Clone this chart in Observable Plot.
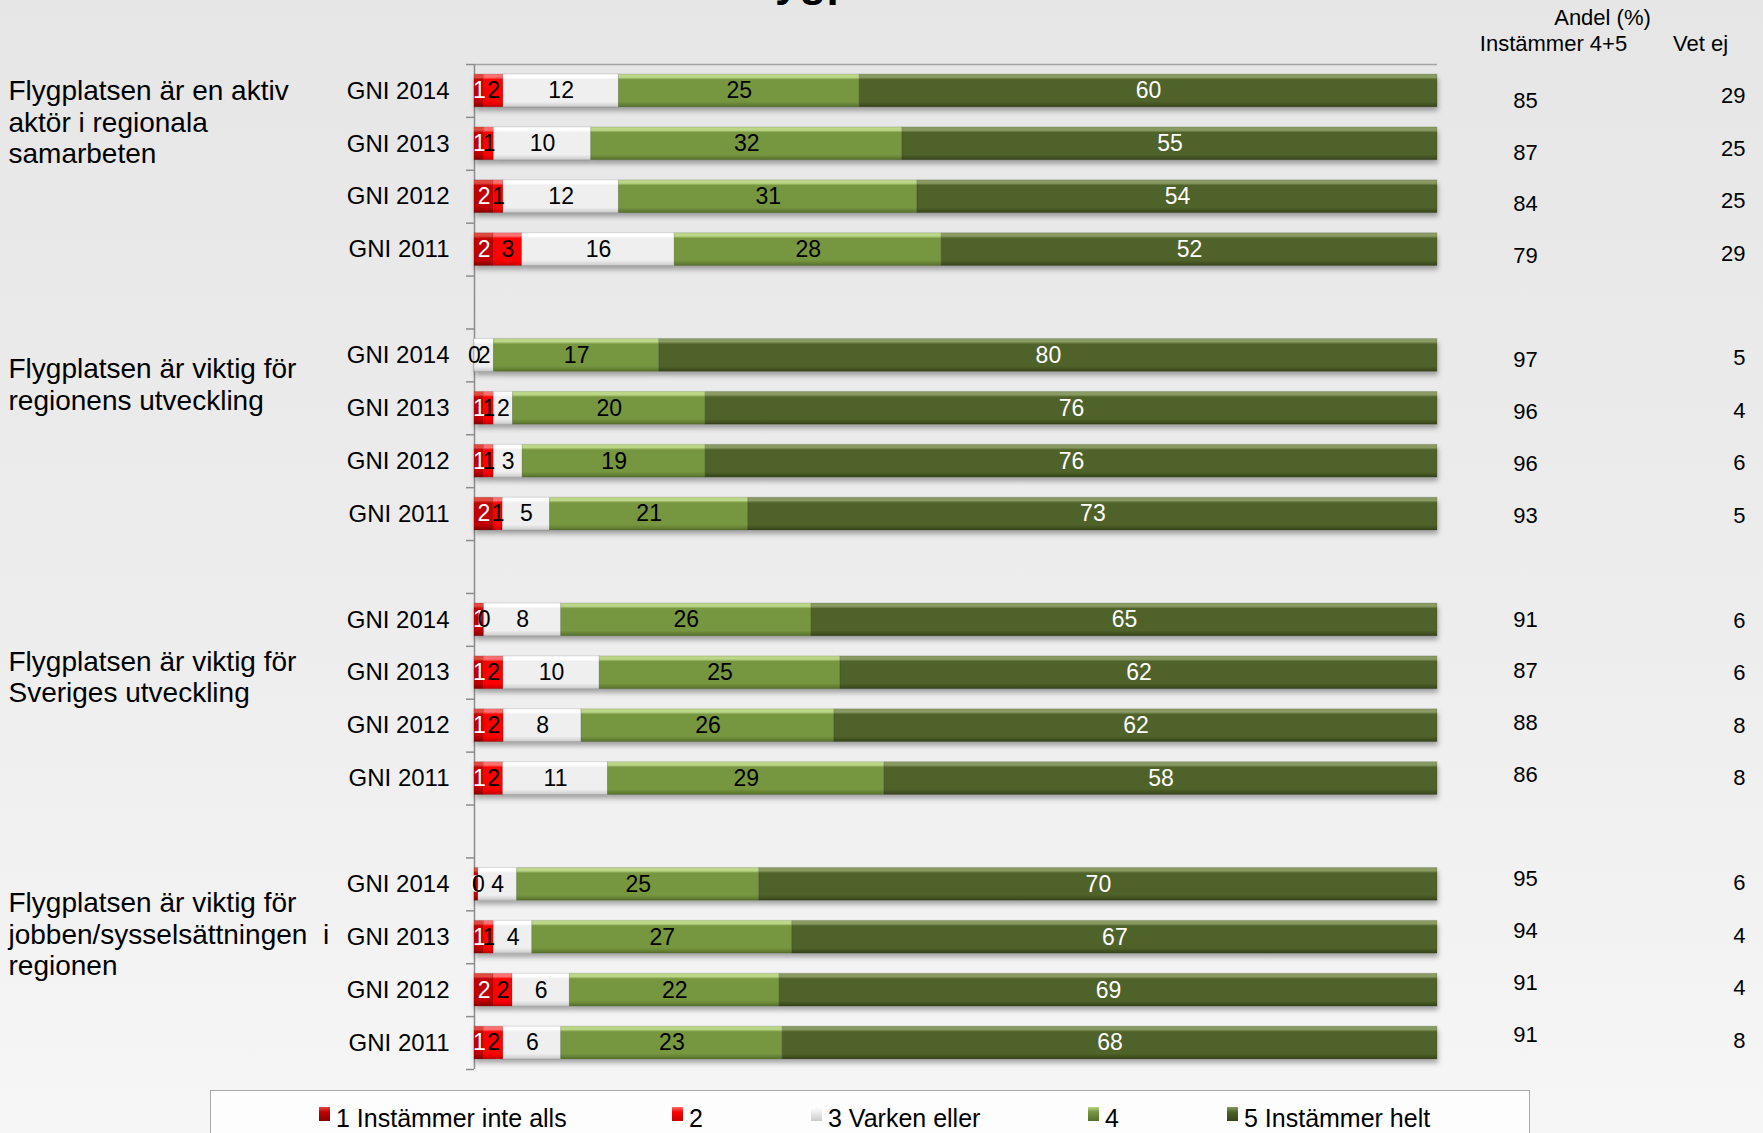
<!DOCTYPE html>
<html><head><meta charset="utf-8">
<script src="https://cdn.jsdelivr.net/npm/d3@7"></script>
<script src="https://cdn.jsdelivr.net/npm/@observablehq/plot@0.6"></script>
<style>
html,body{margin:0;padding:0;}
body{width:1763px;height:1133px;overflow:hidden;background:linear-gradient(to bottom,#e6e6e6 0%,#ededed 55%,#f6f6f6 100%);font-family:Arial,"Liberation Sans",sans-serif;position:relative;}
#title{position:absolute;left:736px;top:-41px;font-size:44px;font-weight:bold;line-height:44px;white-space:nowrap;color:#000;}
#chart{position:absolute;left:0;top:0;}
#legend{position:absolute;left:210px;top:1090px;width:1318px;height:60px;border:1px solid #a9a9a9;background:#fdfdfd;}
.item{position:absolute;top:13px;font-size:25px;white-space:nowrap;color:#000;}
.sw{display:inline-block;width:11px;height:14px;vertical-align:top;margin-top:3px;margin-right:6px;}
</style></head>
<body>
<div id="title">Flygplatsen</div>
<div id="chart"></div>
<div id="legend"></div>
<script>
// ---------- data ----------
const questions = [
  ["Flygplatsen är en aktiv", "aktör i regionala", "samarbeten"],
  ["Flygplatsen är viktig för", "regionens utveckling"],
  ["Flygplatsen är viktig för", "Sveriges utveckling"],
  ["Flygplatsen är viktig för", "jobben/sysselsättningen\u00a0 i", "regionen"]
];
const years = ["GNI 2014", "GNI 2013", "GNI 2012", "GNI 2011"];
const categories = ["1 Instämmer inte alls", "2", "3 Varken eller", "4", "5 Instämmer helt"];
// one value per bar, order: question 1 (2014..2011), question 2, question 3, question 4
const cat1 = [1, 1, 2, 2,   0, 1, 1, 2,   1, 1, 1, 1,   0.4, 1, 2, 1];
const cat2 = [2, 1, 1, 3,   0, 1, 1, 1,   0, 2, 2, 2,   0, 1, 2, 2];
const cat3 = [12, 10, 12, 16,   2, 2, 3, 5,   8, 10, 8, 11,   4, 4, 6, 6];
const cat4 = [25, 32, 31, 28,   17, 20, 19, 21,   26, 25, 26, 29,   25, 27, 22, 23];
const cat5 = [60, 55, 54, 52,   80, 76, 76, 73,   65, 62, 62, 58,   70, 67, 69, 68];
const agree45 = [85, 87, 84, 79,   97, 96, 96, 93,   91, 87, 88, 86,   95, 94, 91, 91];
const dontKnow = [29, 25, 25, 29,   5, 4, 6, 5,   6, 6, 8, 8,   6, 4, 4, 8];

// ---------- styles ----------
const palette = [
  {hi: "#e04a40", base: "#c00000", lo: "#860000"},
  {hi: "#ff7070", base: "#ff0000", lo: "#c40000"},
  {hi: "#ffffff", base: "#efefef", lo: "#cbcbcb"},
  {hi: "#bcd688", base: "#779640", lo: "#55702a"},
  {hi: "#899b62", base: "#4f6229", lo: "#36441a"}
];
const labelPos = [1.08, 1.04, 1.57, 1.43]; // vertical centre of each question label (slot units from group start)
const font = 'Arial, "Liberation Sans", sans-serif';

// ---------- build ----------
const segs = [cat1, cat2, cat3, cat4, cat5];
const rows = d3.range(16).map(i => ({
  slot: Math.floor(i / 4) * 5 + (i % 4),
  year: years[i % 4],
  agree: agree45[i],
  dk: dontKnow[i]
}));
const table = rows.flatMap((r, i) => segs.map((s, k) => ({slot: r.slot, k, cat: categories[k], value: s[i]})));
const yearOf = new Map(rows.map(r => [r.slot + 0.5, r.year]));

const plot = Plot.plot({
  width: 1763, height: 1090,
  marginLeft: 474, marginRight: 326, marginTop: 64, marginBottom: 21,
  x: {domain: [0, 1], axis: null},
  y: {domain: [0, 19], reverse: true},
  color: {domain: categories, range: categories.map((_, k) => `url(#seg${k})`)},
  style: {background: "transparent", fontFamily: font, color: "#000", overflow: "visible"},
  marks: [
    Plot.ruleY([0], {stroke: "#a3a3a3", strokeWidth: 1.5}),
    Plot.axisY(d3.range(20), {tickSize: 8, tickFormat: () => "", stroke: "#8d8d8d", strokeWidth: 1.5, label: null}),
    Plot.ruleX([0], {y1: 0, y2: 19, stroke: "#8d8d8d", strokeWidth: 1.5}),
    Plot.axisY(rows.map(r => r.slot + 0.5), {tickSize: 0, tickPadding: 25, tickFormat: v => yearOf.get(v), fontSize: 24, fill: "#000", label: null}),
    Plot.rectX(table, Plot.stackX({
      x: "value", y1: d => d.slot + 0.19, y2: d => d.slot + 0.81,
      fill: "cat", offset: "normalize", stroke: "rgba(0,0,0,0.12)", strokeWidth: 1
    })),
    Plot.text(table, Plot.stackX({
      x: "value", y: d => d.slot + 0.5, text: d => d3.format(".0f")(d.value),
      fill: d => (d.k === 0 || d.k === 4) ? "white" : "black",
      offset: "normalize", fontSize: 23
    })),
    Plot.text(rows, {frameAnchor: "right", y: r => r.slot * 0.981 + 0.682, text: r => String(r.agree), dx: 88, textAnchor: "middle", fontSize: 22}),
    Plot.text(rows, {frameAnchor: "right", y: r => r.slot * 0.992 + 0.597, text: r => String(r.dk), dx: 308, textAnchor: "end", fontSize: 22}),
    Plot.text(["Andel (%)"], {frameAnchor: "top-right", dx: 165, dy: -55, textAnchor: "middle", fontSize: 22}),
    Plot.text(["Instämmer 4+5"], {frameAnchor: "top-right", dx: 116, dy: -29, textAnchor: "middle", fontSize: 22}),
    Plot.text(["Vet ej"], {frameAnchor: "top-right", dx: 263, dy: -29, textAnchor: "middle", fontSize: 22}),
    Plot.text(questions, {
      frameAnchor: "left", y: (q, i) => i * 5 + labelPos[i], text: q => q.join("\n"),
      dx: -466, textAnchor: "start", lineAnchor: "middle", lineHeight: 1.13, fontSize: 28
    })
  ]
});

// bevel gradients + shadow
const svgSel = d3.select(plot);
const defs = svgSel.insert("defs", ":first-child");
palette.forEach((p, k) => {
  const g = defs.append("linearGradient").attr("id", `seg${k}`)
    .attr("x1", 0).attr("x2", 0).attr("y1", 0).attr("y2", 1);
  [[0, p.hi], [0.1, p.hi], [0.17, p.base], [0.84, p.base], [1, p.lo]]
    .forEach(([o, c]) => g.append("stop").attr("offset", o).attr("stop-color", c));
});
const f = defs.append("filter").attr("id", "shadow")
  .attr("x", "-5%").attr("y", "-10%").attr("width", "110%").attr("height", "125%");
f.append("feDropShadow").attr("dx", 1).attr("dy", 4).attr("stdDeviation", 2.5)
  .attr("flood-color", "#000").attr("flood-opacity", 0.32);
svgSel.selectAll('g[aria-label="rect"]').attr("filter", "url(#shadow)");

document.getElementById("chart").appendChild(plot);

// legend
const legendLeft = [108, 461, 600, 877, 1016];
const legend = d3.select("#legend");
categories.forEach((c, k) => {
  const it = legend.append("div").attr("class", "item").style("left", legendLeft[k] + "px");
  it.append("span").attr("class", "sw")
    .style("background", `linear-gradient(to bottom, ${palette[k].hi} 0%, ${palette[k].base} 35%, ${palette[k].lo} 100%)`);
  it.append("span").text(c);
});
</script>
</body></html>
